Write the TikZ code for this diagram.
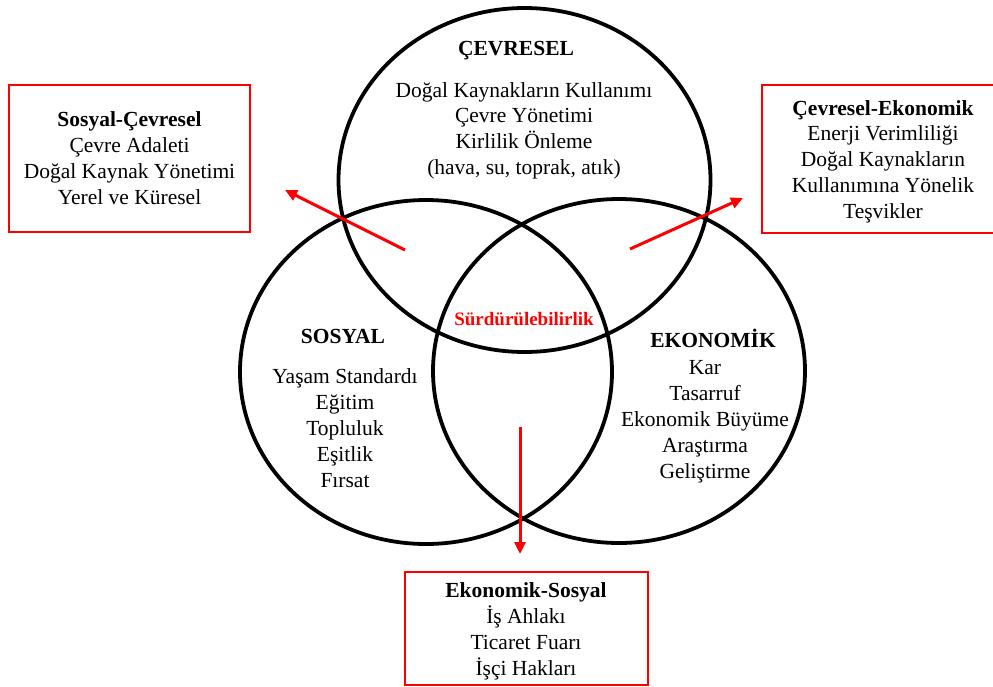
\documentclass[tikz,border=0pt]{standalone}
\usepackage{fontspec}
\setmainfont{Liberation Serif}
\usetikzlibrary{arrows.meta}
\definecolor{accent}{RGB}{255,0,0}
\begin{document}
\begin{tikzpicture}[x=1pt,y=-1pt,
  ring/.style={draw=black,line width=3.8pt},
  txt/.style={anchor=base,inner sep=0pt,font=\fontsize{21.5}{26}\selectfont},
  ttl/.style={txt,font=\fontsize{21.5}{26}\selectfont\bfseries},
  core/.style={anchor=base,inner sep=0pt,text=accent,font=\fontsize{19}{22}\selectfont\bfseries},
  framebox/.style={draw=accent,line width=1.6pt},
  pointer/.style={draw=accent,line width=3pt,-{Triangle[length=12pt,width=11pt]}}]
\useasboundingbox (0,0) rectangle (993,686);

% the three overlapping rings
\draw[ring] (524.5,180) ellipse [x radius=186,y radius=172];
\draw[ring] (426,372) ellipse [x radius=186,y radius=172];
\draw[ring] (619,371) ellipse [x radius=186,y radius=172];

% environmental ring
\node[ttl] (cT) at (516,55) {ÇEVRESEL};
\node[txt] (c1) at (524,97) {Doğal Kaynakların Kullanımı};
\node[txt] (c2) at (524,122.7) {Çevre Yönetimi};
\node[txt] (c3) at (524,148.4) {Kirlilik Önleme};
\node[txt] (c4) at (524,174) {(hava, su, toprak, atık)};

% social ring
\node[ttl] (sT) at (343,343) {SOSYAL};
\node[txt] (s1) at (345,383) {Yaşam Standardı};
\node[txt] (s2) at (345,409.2) {Eğitim};
\node[txt] (s3) at (345,435.4) {Topluluk};
\node[txt] (s4) at (345,461.6) {Eşitlik};
\node[txt] (s5) at (345,487.8) {Fırsat};

% economic ring
\node[ttl] (eT) at (713,347) {EKONOMİK};
\node[txt] (e1) at (705,374) {Kar};
\node[txt] (e2) at (705,400) {Tasarruf};
\node[txt] (e3) at (705,426) {Ekonomik Büyüme};
\node[txt] (e4) at (705,452) {Araştırma};
\node[txt] (e5) at (705,478) {Geliştirme};

% centre
\node[core] (mid) at (524,325) {Sürdürülebilirlik};

% social-environmental box
\draw[framebox] (9,85) rectangle (250,232);
\node[ttl] (b1T) at (129.5,126) {Sosyal-Çevresel};
\node[txt] (b11) at (129.5,152.3) {Çevre Adaleti};
\node[txt] (b12) at (129.5,178.6) {Doğal Kaynak Yönetimi};
\node[txt] (b13) at (129.5,204.9) {Yerel ve Küresel};

% environmental-economic box
\draw[framebox] (762,85) rectangle (1004,233);
\node[ttl] (b2T) at (883,115) {Çevresel-Ekonomik};
\node[txt] (b21) at (883,140.8) {Enerji Verimliliği};
\node[txt] (b22) at (883,166.6) {Doğal Kaynakların};
\node[txt] (b23) at (883,192.4) {Kullanımına Yönelik};
\node[txt] (b24) at (883,218.2) {Teşvikler};

% economic-social box
\draw[framebox] (405,572) rectangle (648,685);
\node[ttl] (b3T) at (526,597) {Ekonomik-Sosyal};
\node[txt] (b31) at (526,623) {İş Ahlakı};
\node[txt] (b32) at (526,649) {Ticaret Fuarı};
\node[txt] (b33) at (526,675) {İşçi Hakları};

% pointers from the overlaps to the boxes
\coordinate (p1a) at (405,250);
\coordinate (p1b) at (285,190);
\coordinate (p2a) at (630,249);
\coordinate (p2b) at (743,198);
\coordinate (p3a) at (520,427);
\coordinate (p3b) at (520,554);
\draw[pointer] (p1a) -- (p1b);
\draw[pointer] (p2a) -- (p2b);
\draw[pointer] (p3a) -- (p3b);
\end{tikzpicture}
\end{document}
